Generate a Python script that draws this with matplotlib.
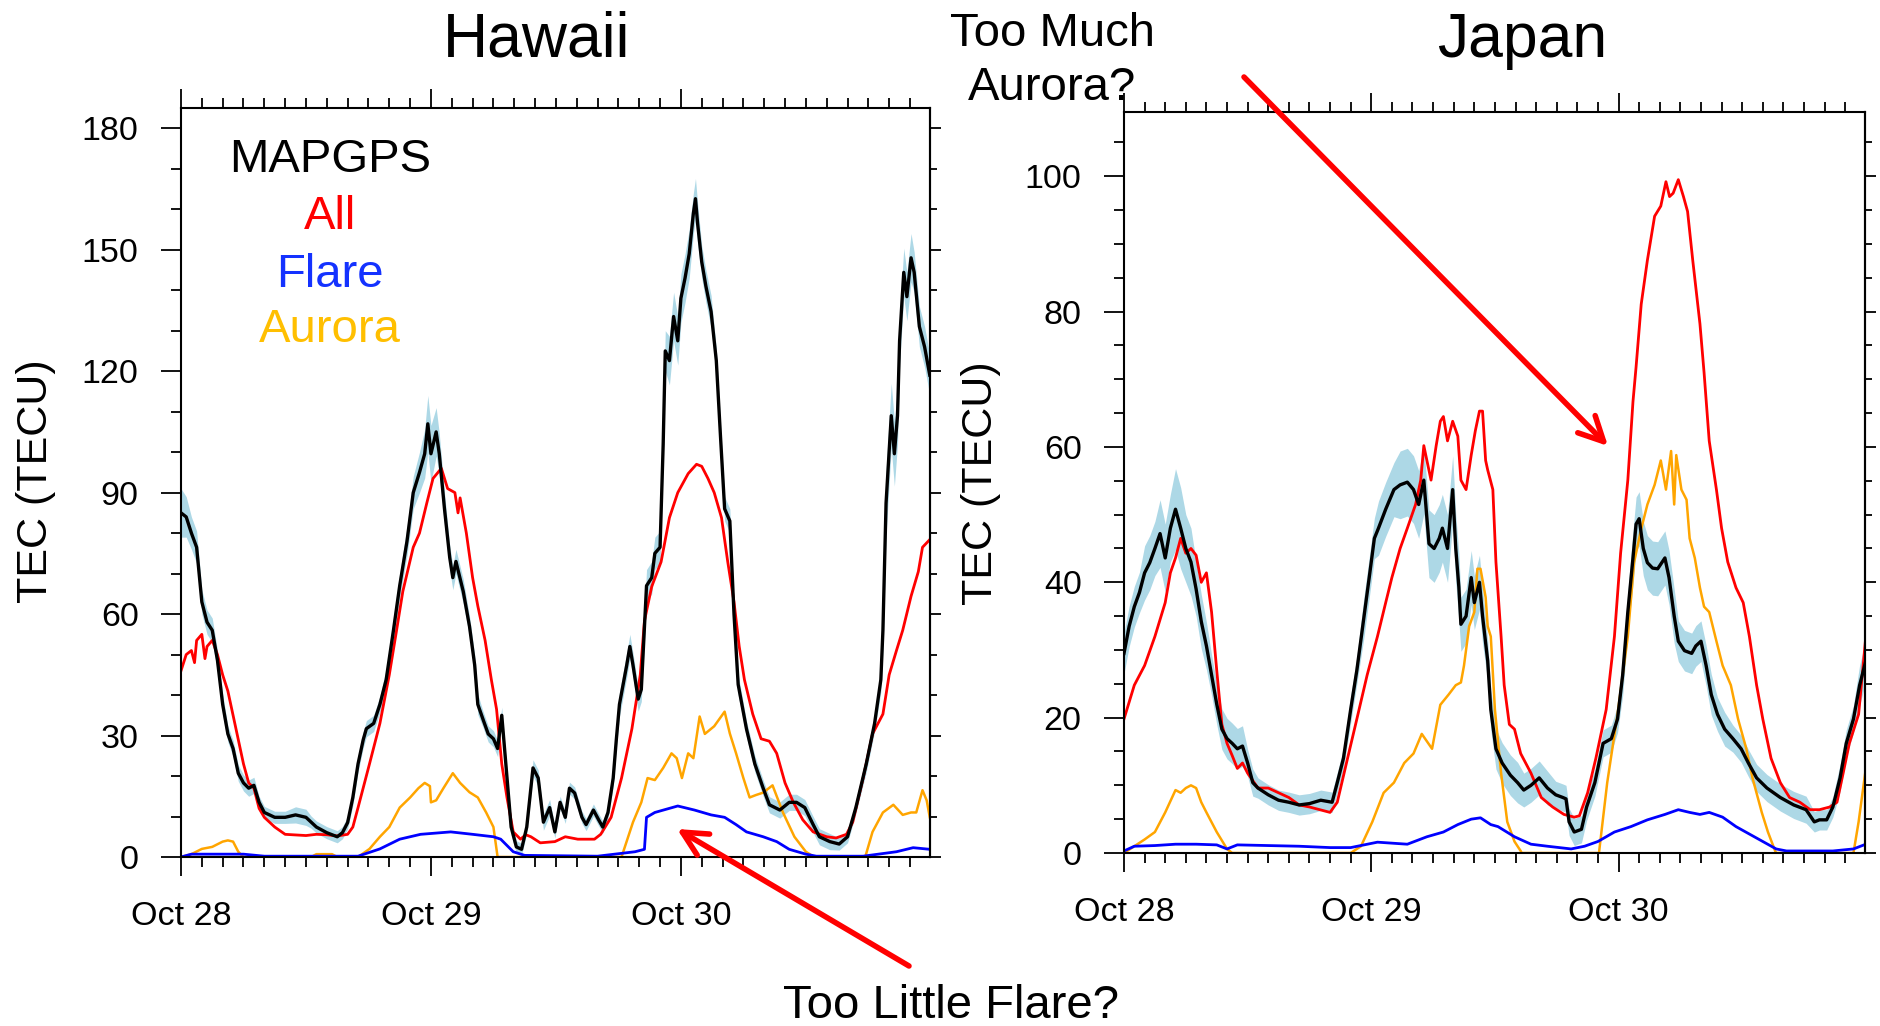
import numpy as np
import matplotlib
matplotlib.use("Agg")
import matplotlib.pyplot as plt
from matplotlib.ticker import MultipleLocator

plt.rcParams['font.family'] = ['Liberation Sans', 'DejaVu Sans']

### --------------------------------------------
# hours after Oct 28 00 UT, TEC (TECU); for MAPGPS also the half width of the blue band
day_hours = [0, 24, 48]
day_labels = ["Oct 28", "Oct 29", "Oct 30"]

hawaii_gps = [
    (0, 85, 6), (0.5, 84, 5), (1, 80, 4), (1.5, 76.5, 4), (2, 63, 3), (2.5, 58, 3), (3, 56, 3),
    (3.5, 48.6, 2.5), (4, 37.7, 2.5), (4.5, 30.4, 2), (5, 26.8, 2), (5.5, 20.7, 2), (6, 18.3, 2),
    (6.5, 17, 2), (7, 17.7, 2), (7.5, 13.5, 1.5), (8, 11, 1.5), (9, 9.8, 1.5), (10, 9.8, 1.5),
    (11, 10.4, 2), (12, 9.8, 2), (12.5, 8.6, 1.5), (13, 7.4, 1.5), (14, 6, 1.5), (15, 5, 1.5),
    (15.5, 6, 1.5), (16, 8.5, 1.5), (16.5, 14.7, 2), (17, 23, 2), (17.5, 29, 2), (17.8, 31.7, 2),
    (18.5, 33, 2), (19.1, 37.7, 2), (19.7, 43.8, 2.5), (20.4, 56, 3), (21, 67, 3), (21.7, 78, 3.5),
    (22.3, 90, 4), (22.9, 95, 5), (23.4, 99.6, 6), (23.7, 107, 7), (24, 99.6, 7), (24.5, 105, 6),
    (24.8, 99.6, 5), (25.3, 86, 4), (25.8, 74, 3), (26.1, 69, 3), (26.4, 73, 3), (27.1, 65.6, 3),
    (27.7, 57, 2.5), (28.2, 47.4, 2.5), (28.5, 37.7, 2.5), (29, 34, 2), (29.5, 30.4, 2), (30, 29.2, 2),
    (30.4, 26.8, 2), (30.8, 35, 2), (31.3, 19.5, 2), (31.7, 7.4, 2), (32.2, 2.5, 1.5), (32.7, 1.9, 1.5),
    (33.2, 7.4, 1.5), (33.8, 22, 2), (34.3, 19.5, 2), (34.8, 8.6, 2), (35.4, 12.2, 2), (35.9, 6.2, 1.5),
    (36.4, 13.5, 1.5), (36.9, 9.8, 1.5), (37.3, 17, 1.5), (37.8, 15.8, 1.5), (38.5, 9.8, 1.5),
    (38.9, 8, 1.5), (39.6, 11.6, 1.5), (40.1, 9.2, 1.5), (40.5, 7.4, 1.5), (41, 11, 1.5),
    (41.5, 19.5, 2), (41.8, 29, 2), (42.1, 37.7, 3), (42.8, 47.4, 3), (43.1, 52, 3), (43.4, 47.4, 3),
    (43.9, 39, 3), (44.2, 41.4, 3), (44.7, 67, 4), (45.2, 69, 4), (45.5, 75, 4), (46, 76.5, 4),
    (46.3, 102, 5), (46.5, 125, 5), (46.9, 122.6, 6), (47.3, 133.5, 6), (47.7, 127.5, 6), (48, 138, 6),
    (48.4, 143, 6), (48.8, 149, 6), (49.2, 159, 5), (49.4, 162.6, 5), (49.6, 156.6, 5), (50, 147, 4),
    (50.4, 141, 4), (50.9, 134.7, 4), (51.4, 122.6, 3), (51.8, 104, 3), (52.2, 86, 3), (52.7, 83, 3),
    (53.1, 60, 3), (53.5, 42.6, 2.5), (54.3, 31.6, 2), (55.1, 23, 2), (55.9, 17, 2), (56.5, 12.9, 2),
    (57.5, 11.6, 2), (58.4, 13.5, 2), (59.1, 13.5, 2), (59.9, 12.2, 2), (60.7, 8, 2), (61.3, 5, 2),
    (62.3, 3.8, 2), (63.2, 3.2, 1.5), (64, 5, 1.5), (64.8, 12.2, 1.5), (65.8, 23, 2), (66.6, 33, 2),
    (67.2, 43.8, 3), (67.4, 56, 5), (67.7, 87.4, 8), (68.2, 109, 8), (68.5, 99.6, 8), (68.8, 109, 7),
    (69, 127.5, 6), (69.4, 144.4, 6), (69.7, 138.4, 6), (70.1, 148, 6), (70.4, 144.4, 5),
    (70.9, 131, 5), (71.4, 126, 5), (71.9, 119, 5)]

hawaii_all = [
    (0, 46), (0.5, 50), (1, 51), (1.3, 48), (1.5, 53.5), (2, 55), (2.3, 49), (2.5, 52), (3, 53.5),
    (3.5, 50), (4, 45), (4.5, 41), (5, 35), (5.5, 29), (6, 23), (6.5, 18.3), (7, 17), (7.5, 12),
    (8, 9.8), (9, 7.4), (10, 5.6), (12, 5.3), (13, 5.6), (14, 5.5), (15, 5.2), (16, 5.6), (16.5, 7.4),
    (17, 12.2), (18.1, 23), (19.1, 33), (20, 45), (20.7, 56), (21.3, 65.6), (22.3, 76.5), (22.9, 80),
    (23.6, 87.4), (24.2, 93.5), (25, 96), (25.6, 91), (26.3, 90), (26.6, 85), (26.8, 88.7), (27.4, 80),
    (28, 69), (28.5, 62), (29.2, 53.5), (29.8, 43.8), (30.3, 36.5), (30.8, 23), (31.3, 14.7),
    (31.9, 6.2), (32.6, 4.4), (33.1, 5.5), (33.6, 5), (34.5, 3.5), (35.9, 3.8), (36.9, 5), (38.1, 4.4),
    (39.7, 4.4), (40.3, 5.6), (41.3, 9.8), (42.3, 19.5), (43.3, 31.7), (44.1, 45), (44.5, 58.3),
    (45.2, 66.8), (46.1, 72.9), (46.9, 83.8), (47.7, 90), (48.7, 94.7), (49.5, 97), (50, 96.5),
    (50.6, 93.5), (51.2, 90), (51.9, 83.8), (52.5, 72.9), (53.1, 63), (53.6, 52), (54.1, 43.8),
    (54.9, 35.3), (55.7, 29.2), (56.5, 28.6), (57.2, 25.6), (58, 18.3), (58.8, 13.5), (59.7, 9.2),
    (60.7, 6.2), (62, 5), (62.9, 4.7), (63.9, 5.6), (64.5, 8.6), (65.5, 19.5), (66.4, 30.4),
    (67.4, 35.3), (68, 45), (68.7, 51), (69.3, 56), (70.1, 64.4), (70.8, 70.5), (71.2, 76.5),
    (71.9, 78.4)]

hawaii_flare = [
    (0, 0), (1, 0.7), (6, 0.7), (8, 0.2), (17, 0.2), (19.1, 2), (21, 4.4), (23, 5.6), (25.9, 6.2),
    (28, 5.6), (30, 5), (30.7, 4.4), (31.9, 1.3), (33, 0.4), (40, 0.2), (43.6, 1.3), (44.5, 1.9),
    (44.7, 9.8), (45.5, 11), (47.7, 12.6), (49.3, 11.6), (50.9, 10.4), (52.2, 9.8), (53.3, 8),
    (54.3, 6.2), (55.9, 5), (57.2, 3.8), (58.4, 1.9), (60, 0.7), (61, 0.2), (65.5, 0.2), (68.7, 1.3),
    (70.3, 2.3), (71.9, 1.9)]

hawaii_aurora = [
    (0, 0), (1, 0.7), (2, 2), (3, 2.5), (4, 3.8), (4.5, 4.1), (5, 3.8), (5.5, 1.3), (6, 0), (12.5, 0),
    (13, 0.7), (14.5, 0.7), (15, 0), (17, 0), (18.1, 2), (19.1, 5), (20, 7.4), (21, 12.2), (22, 14.7),
    (22.8, 17), (23.4, 18.3), (23.9, 17.5), (24, 13.5), (24.5, 14), (25.2, 17), (26.1, 20.7),
    (26.8, 18.3), (27.7, 16), (28.5, 14.7), (29.3, 11), (30, 7.4), (30.4, 0), (42.3, 0), (43.4, 8.6),
    (44.2, 13.5), (44.8, 19.5), (45.5, 19), (46.3, 22), (47.1, 25.6), (47.6, 24.4), (48.1, 19.5),
    (48.7, 25.6), (49.2, 24.4), (49.8, 34.7), (50.3, 30.4), (51.2, 32.3), (52.2, 35.9), (52.7, 30.5),
    (53.3, 25.6), (54, 19.5), (54.6, 14.7), (55.2, 15.3), (55.9, 15.9), (56.8, 17.7), (57.8, 11),
    (58.9, 5), (60, 1.3), (60.8, 0), (65.7, 0), (66.4, 6.2), (67.4, 11), (68.4, 12.9), (69.3, 10.4),
    (70.1, 11), (70.6, 11), (71.2, 16.5), (71.6, 14), (71.9, 9.8)]

japan_gps = [
    (0, 29.5, 3), (0.5, 33.5, 3), (1, 36.4, 3), (1.5, 38.5, 3), (2, 41.4, 4), (2.5, 42.9, 4), (3, 45, 4),
    (3.5, 47.2, 5), (4, 43.6, 5), (4.5, 48, 5), (5, 50.8, 6), (5.5, 48, 6), (6, 45, 5), (6.5, 43, 5),
    (7, 39, 4), (7.5, 34.2, 4), (8, 30.6, 3.5), (8.5, 26.3, 3), (9, 22, 3), (9.5, 18.3, 3), (10, 16.9, 3),
    (10.5, 16.2, 3), (11, 15.4, 3), (11.5, 15.8, 3), (12, 13.3, 2), (12.5, 10.4, 2), (13, 9.6, 1.5),
    (14, 8.6, 1.5), (15, 7.8, 1.5), (16, 7.5, 1.5), (17, 7.1, 1.5), (18, 7.3, 1.5), (19.1, 7.8, 1.5),
    (20.2, 7.5, 1.5), (20.7, 10.4, 1.5), (21.3, 14, 1.5), (22, 21.2, 2), (22.6, 27, 2), (23.3, 35, 3),
    (23.8, 40.7, 3), (24.3, 46.5, 3), (24.7, 48, 4), (25.4, 50.8, 4), (26.2, 53.7, 4), (26.8, 54.4, 5),
    (27.5, 54.8, 5), (28.1, 53.7, 5), (28.6, 51.5, 5), (29.1, 55.1, 5), (29.6, 45.7, 5), (30.1, 45, 5),
    (30.6, 46.5, 5), (30.9, 48, 5), (31.4, 45, 5), (31.9, 53.7, 5), (32.2, 45, 5), (32.5, 39.3, 5),
    (32.7, 33.8, 4), (33.2, 35, 4), (33.7, 40.7, 4), (34, 37, 4), (34.5, 40, 4), (34.8, 35, 4),
    (35.3, 28.4, 3), (35.6, 21.2, 3), (36.1, 15.4, 3), (36.7, 13.3, 3), (37.5, 11.5, 3), (38.2, 10.4, 3),
    (38.8, 9.3, 2.5), (39.5, 10, 2.5), (40.3, 11.1, 2.5), (41.1, 9.6, 2.5), (41.9, 8.6, 2), (42.6, 8.2, 2),
    (42.9, 8, 2), (43.2, 4.6, 2), (43.7, 3.1, 2), (44.4, 3.5, 2), (44.9, 6.8, 2), (45.7, 10.4, 2),
    (46.5, 16.2, 2), (47.3, 16.9, 2), (47.9, 19.8, 2), (48.4, 26.3, 3), (48.9, 35.6, 3), (49.4, 43.6, 4),
    (49.7, 48.6, 4), (50, 49.4, 4), (50.4, 45, 4), (50.8, 42.9, 4), (51.3, 42.1, 4), (51.8, 42, 4),
    (52.5, 43.6, 4), (52.9, 40.7, 4), (53.4, 35, 4), (53.8, 31.3, 3), (54.4, 29.9, 3), (55.1, 29.5, 3),
    (55.5, 30.6, 3), (56, 31.3, 3), (56.5, 27.7, 3), (57, 23.4, 3), (57.6, 20.5, 2.5), (58.3, 18.3, 2.5),
    (59.1, 16.9, 2), (59.9, 15.4, 2), (60.6, 13.3, 2), (61.4, 11.1, 2), (62.4, 9.6, 2), (63.7, 8.2, 2),
    (65, 7.1, 2), (66.2, 6.4, 2), (67, 4.6, 1.5), (67.5, 4.9, 1.5), (68.2, 4.9, 1.5), (68.8, 6.8, 1.5),
    (69.5, 11.1, 2), (70.1, 16.2, 2), (70.8, 19.8, 2), (71.4, 24.8, 3), (72, 28.4, 3)]

japan_all = [
    (0, 19.8), (1, 24.8), (2, 27.7), (3, 32), (4, 37), (4.5, 41.4), (5, 43.6), (5.5, 46.5), (6, 44.3),
    (6.5, 45), (7, 44), (7.5, 40), (8, 41.4), (8.5, 35.6), (9, 27), (9.5, 19), (10, 16.2), (10.5, 14.4),
    (11, 12.5), (11.5, 13.3), (12, 11.8), (13, 9.6), (14, 9.6), (15, 8.9), (16, 8.2), (17, 7.1),
    (18, 6.8), (19, 6.4), (20, 6), (20.7, 7.5), (21.7, 14), (22.6, 19.8), (23.6, 26.3), (24.6, 32),
    (25.4, 37), (26, 40.7), (26.8, 45), (27.5, 48), (28.3, 51.5), (28.8, 55.1), (29.1, 60.2),
    (29.4, 58), (29.8, 55.1), (30.3, 60.2), (30.7, 63.8), (31, 64.5), (31.4, 60.9), (31.9, 63.8),
    (32.4, 61.6), (32.7, 55.1), (33.2, 53.7), (33.7, 58.8), (34.1, 62.4), (34.5, 65.3), (34.8, 65.3),
    (35.1, 58), (35.3, 56.6), (35.8, 53.7), (36.1, 43), (36.6, 32), (36.9, 24.8), (37.4, 19),
    (37.9, 18.3), (38.5, 14.7), (39.5, 11.8), (40.5, 8.2), (41.6, 6.8), (42.7, 5.7), (43.7, 5.3),
    (44.2, 5.5), (45, 8.9), (45.8, 14), (46.8, 21.2), (47.6, 32), (48.2, 44.3), (48.9, 55.1),
    (49.4, 66.7), (49.7, 71.8), (50.2, 81.1), (50.8, 87.6), (51.5, 94.1), (52.1, 95.6), (52.6, 99.2),
    (52.95, 97), (53.3, 97.5), (53.8, 99.5), (54.3, 97), (54.7, 94.8), (55.2, 87.6), (55.9, 78.2),
    (56.3, 71), (56.8, 60.9), (57.5, 53.7), (58, 48), (58.6, 43), (59.4, 39.2), (60.1, 37), (60.7, 32),
    (61.4, 24.8), (62, 19.8), (62.8, 14), (63.7, 10.4), (64.6, 8.2), (65.6, 7.5), (66.6, 6.4),
    (67.5, 6.4), (68.5, 6.8), (69.2, 7.5), (69.8, 11.8), (70.4, 16.2), (71.3, 20.5), (72, 32)]

japan_flare = [
    (0, 0.3), (1, 1), (3, 1.1), (5, 1.3), (7, 1.3), (9, 1.2), (10, 0.6), (11, 1.2), (14, 1.1), (17, 1.0),
    (20, 0.8), (22, 0.8), (24.6, 1.6), (27.5, 1.3), (29.4, 2.4), (31, 3.1), (32.4, 4.2), (33.7, 5),
    (34.6, 5.2), (35.6, 4.2), (36.3, 3.9), (37.9, 2.4), (39.5, 1.3), (41.1, 1), (43.4, 0.6), (44.7, 1),
    (46, 1.7), (47.6, 3.1), (49.2, 3.9), (50.8, 4.9), (52.5, 5.7), (53.8, 6.4), (54.9, 6), (55.9, 5.7),
    (56.8, 6), (58.1, 5.3), (59.4, 3.9), (60.7, 2.8), (62, 1.7), (63.3, 0.6), (64.3, 0.3), (68.8, 0.3),
    (70.8, 0.6), (72, 1.3)]

japan_aurora = [
    (0, 0), (1, 1), (2, 2), (3, 3.1), (4, 6), (5, 9.3), (5.5, 8.9), (6, 9.6), (6.5, 10), (7, 9.6),
    (7.5, 7.5), (8, 6), (9, 3.1), (10, 0.6), (10.5, 0), (22, 0), (23, 1), (24.1, 4.6), (25.2, 8.9),
    (26.2, 10.4), (27.2, 13.3), (28.1, 14.7), (28.9, 17.6), (29.9, 15.4), (30.7, 21.9), (31.5, 23.4),
    (32.2, 24.8), (32.7, 25.2), (33, 27.7), (33.5, 33.5), (34, 35.6), (34.3, 42), (34.6, 42),
    (35.1, 37.8), (35.3, 33.5), (35.6, 32), (36, 21.2), (36.6, 11.8), (37.2, 4.6), (37.9, 1.7),
    (38.5, 0.3), (38.6, 0), (46.1, 0), (46.9, 10.4), (47.9, 20.5), (48.9, 32), (49.5, 42.9),
    (50.2, 47.9), (50.8, 51.5), (51.5, 54.4), (52.1, 58), (52.6, 53.7), (53.1, 59.4), (53.4, 51.5),
    (53.6, 58.8), (54.1, 53.7), (54.6, 52.2), (54.9, 46.5), (55.4, 43.6), (55.9, 39.2), (56.3, 36.4),
    (56.8, 35.6), (57.5, 31.3), (58.1, 27.7), (58.9, 24.8), (59.6, 19.8), (60.4, 15.4), (61, 11.1),
    (61.9, 6), (62.5, 3.1), (63.2, 0.3), (63.3, 0), (70.8, 0), (71.3, 4.6), (72, 12.5)]

W, H = 1880, 1026


### --------------------------------------------
def plot_panel(ax, gps, run_all, flare, aurora, ymax, ymajor, yminor):
    g = np.array(gps)
    t, v, s = g[:, 0], g[:, 1], g[:, 2]
    ax.fill_between(t, v - s, v + s, color="lightblue", lw=0, zorder=1)
    for data, col, lw in [(aurora, "orange", 1.8), (flare, "blue", 2.0), (run_all, "red", 2.0)]:
        d = np.array(data)
        ax.plot(d[:, 0], d[:, 1], color=col, lw=lw, zorder=2)
    ax.plot(t, v, color="k", lw=2.4, zorder=3)

    ax.set_xlim(0, 71.92)
    ax.set_ylim(0, ymax)
    ax.set_xticks(day_hours)
    ax.set_xticklabels(day_labels)
    ax.xaxis.set_minor_locator(MultipleLocator(2))
    ax.yaxis.set_major_locator(MultipleLocator(ymajor))
    ax.yaxis.set_minor_locator(MultipleLocator(yminor))
    for sp in ax.spines.values():
        sp.set_linewidth(1.5)

    ax.tick_params(axis="x", which="both", direction="out", top=True, bottom=True,
                   width=1.3, labelsize=24.5, pad=18)
    ax.tick_params(axis="x", which="major", length=14)
    ax.tick_params(axis="x", which="minor", length=7)
    ax.tick_params(axis="y", which="both", direction="out", left=True, right=False,
                   width=1.3, labelsize=24.5, pad=16)
    ax.tick_params(axis="y", which="major", length=14.5)
    ax.tick_params(axis="y", which="minor", length=7)

    # shorter ticks on the right side
    sec = ax.secondary_yaxis("right")
    sec.yaxis.set_major_locator(MultipleLocator(ymajor))
    sec.yaxis.set_minor_locator(MultipleLocator(yminor))
    sec.tick_params(axis="y", which="both", direction="out", width=1.3, labelright=False)
    sec.tick_params(axis="y", which="major", length=8)
    sec.tick_params(axis="y", which="minor", length=5)
    sec.spines["right"].set_linewidth(1.5)


fig = plt.figure(figsize=(W / 100, H / 100), dpi=100)
axL = fig.add_axes([181 / W, 1 - 857 / H, 749 / W, 749 / H])
axR = fig.add_axes([1124 / W, 1 - 853 / H, 741 / W, 741 / H])

plot_panel(axL, hawaii_gps, hawaii_all, hawaii_flare, hawaii_aurora, 185, 30, 10)
plot_panel(axR, japan_gps, japan_all, japan_flare, japan_aurora, 109.5, 20, 5)

# titles and axis labels
fig.text(537 / W, 1 - 40 / H, "Hawaii", fontsize=45, ha="center", va="center")
fig.text(1522 / W, 1 - 40 / H, "Japan", fontsize=45, ha="center", va="center")
fig.text(36 / W, 1 - 481 / H, "TEC (TECU)", fontsize=31, rotation=90, ha="center", va="center")
fig.text(981 / W, 1 - 483 / H, "TEC (TECU)", fontsize=31, rotation=90, ha="center", va="center")

# legend as coloured words
for word, col, y in [("MAPGPS", "black", 160), ("All", "#ff0000", 217),
                     ("Flare", "#1432ff", 275), ("Aurora", "#ffbf00", 330)]:
    fig.text(330 / W, 1 - y / H, word, color=col, fontsize=34, ha="center", va="center")

# annotations
fig.text(1052 / W, 1 - 34 / H, "Too Much", fontsize=34, ha="center", va="center")
fig.text(1052 / W, 1 - 88 / H, "Aurora?", fontsize=34, ha="center", va="center")
fig.text(951 / W, 1 - 1006 / H, "Too Little Flare?", fontsize=34, ha="center", va="center")

arrow = dict(arrowstyle="->", color="red", lw=4.0, mutation_scale=44, shrinkA=0, shrinkB=0)
axR.annotate("", xy=(1608, H - 446), xytext=(1244, H - 77), xycoords="figure pixels",
             textcoords="figure pixels", arrowprops=arrow, annotation_clip=False, zorder=10)
axL.annotate("", xy=(677, H - 829), xytext=(909, H - 966), xycoords="figure pixels",
             textcoords="figure pixels", arrowprops=arrow, annotation_clip=False, zorder=10)

plt.savefig("out.png", dpi=100)
plt.close()
